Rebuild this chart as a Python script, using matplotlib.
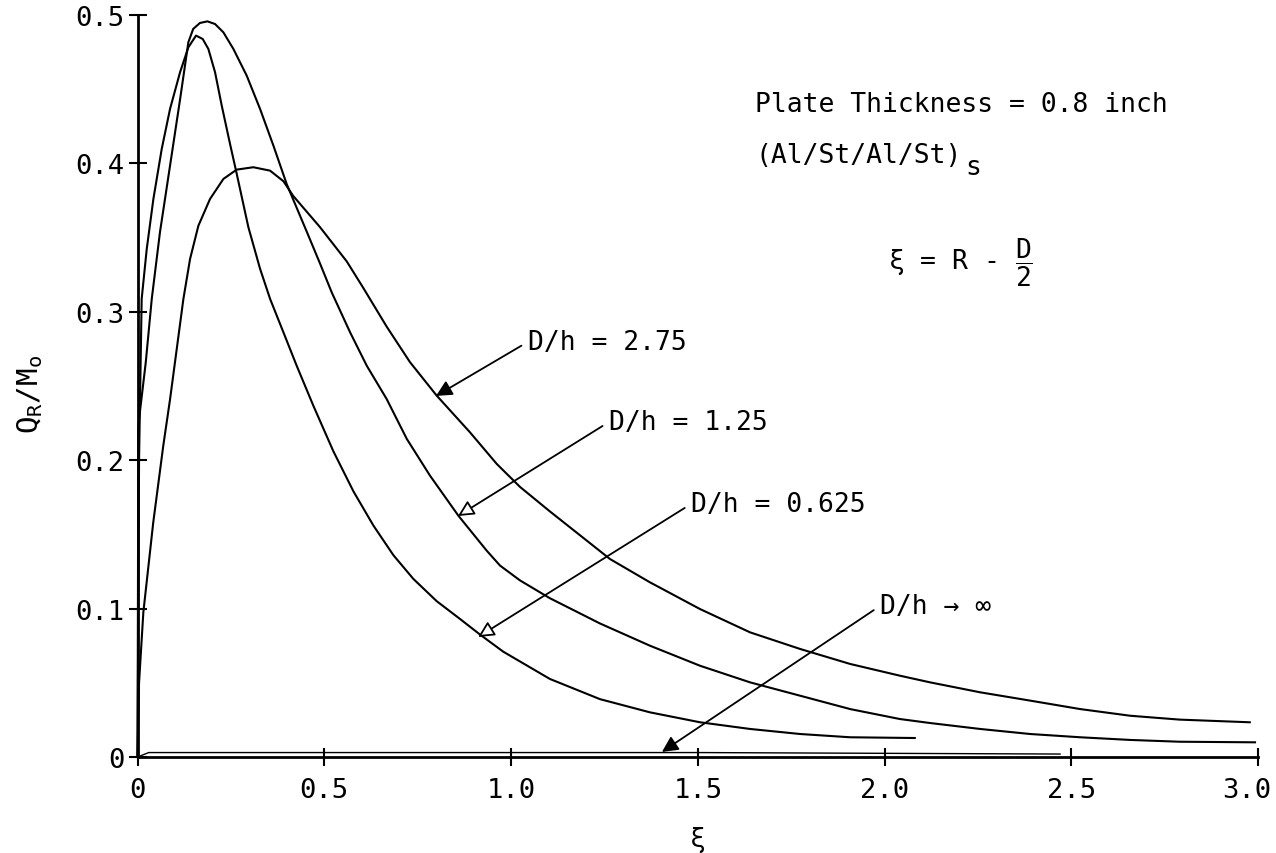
import matplotlib
matplotlib.use("Agg")
import matplotlib.pyplot as plt
from matplotlib.transforms import ScaledTranslation

# values (xi, Q_R/M_o)
xi_0625 = [0, 0.002, 0.004, 0.011, 0.0246, 0.0424, 0.0647, 0.087, 0.1138, 0.136, 0.1566,
           0.1745, 0.1896, 0.2075, 0.2254, 0.2477, 0.2655, 0.2967, 0.328, 0.355, 0.3905,
           0.426, 0.4707, 0.5243, 0.578, 0.6314, 0.685, 0.7385, 0.801, 0.8635, 0.917,
           0.979, 1.104, 1.238, 1.372, 1.506, 1.64, 1.774, 1.908, 2.081]
q_0625 = [0, 0.10, 0.20, 0.3086, 0.3423, 0.376, 0.4097, 0.4367, 0.4614, 0.4782, 0.4861,
          0.4838, 0.4771, 0.4614, 0.4389, 0.413, 0.393, 0.357, 0.329, 0.3086, 0.2862,
          0.2637, 0.2367, 0.206, 0.179, 0.156, 0.136, 0.12, 0.105, 0.093, 0.0825,
          0.071, 0.0526, 0.039, 0.0301, 0.0234, 0.0189, 0.0155, 0.0133, 0.0128]

xi_125 = [0, 0.001, 0.002, 0.022, 0.038, 0.060, 0.087, 0.114, 0.136, 0.149, 0.167, 0.187,
          0.2075, 0.2298, 0.2566, 0.2923, 0.328, 0.3637, 0.3994, 0.453, 0.4886, 0.52,
          0.569, 0.6136, 0.667, 0.721, 0.783, 0.859, 0.935, 0.9705, 1.024, 1.104, 1.238,
          1.372, 1.506, 1.64, 1.774, 1.908, 2.041, 2.122, 2.256, 2.39, 2.524, 2.658,
          2.79, 2.992]
q_125 = [0, 0.10, 0.2233, 0.266, 0.3086, 0.3536, 0.3985, 0.4434, 0.4816, 0.4906, 0.4946,
         0.4957, 0.4939, 0.4883, 0.4771, 0.4591, 0.4367, 0.412, 0.386, 0.354, 0.3325,
         0.313, 0.2862, 0.2637, 0.2412, 0.2143, 0.1896, 0.1626, 0.139, 0.129, 0.119,
         0.107, 0.090, 0.075, 0.0615, 0.0503, 0.0413, 0.0323, 0.0256, 0.0229, 0.0189,
         0.0155, 0.0133, 0.0115, 0.0103, 0.0099]

xi_275 = [0, 0.004, 0.0155, 0.042, 0.069, 0.087, 0.1227, 0.1406, 0.1629, 0.194, 0.2298,
          0.2655, 0.31, 0.3548, 0.3905, 0.417, 0.4886, 0.56, 0.6046, 0.667, 0.7296, 0.801,
          0.89, 0.9617, 1.024, 1.104, 1.265, 1.372, 1.506, 1.64, 1.774, 1.908, 2.041,
          2.122, 2.256, 2.39, 2.524, 2.658, 2.79, 2.978]
q_275 = [0, 0.05, 0.0975, 0.158, 0.21, 0.241, 0.3086, 0.3356, 0.358, 0.376, 0.3895,
         0.3958, 0.3974, 0.3951, 0.388, 0.378, 0.357, 0.334, 0.316, 0.290, 0.266, 0.2435,
         0.2188, 0.1975, 0.182, 0.1655, 0.1334, 0.1177, 0.0997, 0.084, 0.0728, 0.0627,
         0.0548, 0.0503, 0.0436, 0.038, 0.0323, 0.0278, 0.0252, 0.0234]

xi_inf = [0, 0.03, 0.5, 1.5, 2.47]
q_inf = [0, 0.003, 0.003, 0.003, 0.002]

x_ticks = [0, 0.5, 1.0, 1.5, 2.0, 2.5, 3.0]
x_labels = ["0", "0.5", "1.0", "1.5", "2.0", "2.5", "3.0"]
y_ticks = [0, 0.1, 0.2, 0.3, 0.4, 0.5]
y_labels = ["0", "0.1", "0.2", "0.3", "0.4", "0.5"]

plt.rcParams["font.family"] = ["DejaVu Sans Mono", "DejaVu Sans"]
plt.rcParams["mathtext.fontset"] = "custom"
plt.rcParams["mathtext.rm"] = "DejaVu Sans Mono"
plt.rcParams["mathtext.it"] = "DejaVu Sans Mono"
plt.rcParams["mathtext.default"] = "regular"

fig = plt.figure(figsize=(12.76, 8.54), dpi=100)
ax = fig.add_axes([0.1078, 0.1124, 0.8781, 0.8689])

for xs, ys in [(xi_0625, q_0625), (xi_125, q_125), (xi_275, q_275)]:
    ax.plot(xs, ys, color="black", lw=1.5, clip_on=False, solid_joinstyle="round")
ax.plot(xi_inf, q_inf, color="black", lw=1.0, clip_on=False)

ax.set_xlim(0, 3)
ax.set_ylim(0, 0.5)
ax.spines["top"].set_visible(False)
ax.spines["right"].set_visible(False)
ax.spines["left"].set_linewidth(2)
ax.spines["bottom"].set_linewidth(2)
ax.set_xticks(x_ticks)
ax.set_xticklabels(x_labels)
ax.set_yticks(y_ticks)
ax.set_yticklabels(y_labels)
ax.tick_params(direction="inout", length=13, width=1.5, labelsize=19.5)
ax.tick_params(axis="x", pad=8)
ax.tick_params(axis="y", pad=3)

# last x label sits a bit left, as in the original
last = ax.get_xticklabels()[-1]
last.set_transform(last.get_transform() + ScaledTranslation(-0.11, 0, fig.dpi_scale_trans))

ax.set_ylabel("Q$_R$/M$_o$", fontsize=21)
ax.yaxis.set_label_coords(-0.083, 0.49)
ax.set_xlabel("ξ", fontsize=19)
ax.xaxis.set_label_coords(0.5, -0.093)

# annotations
solid = dict(arrowstyle="-|>", color="black", lw=1.3, mutation_scale=24,
             shrinkA=3, shrinkB=0, relpos=(0, 0.5))
hollow = dict(arrowstyle="-|>", ec="black", fc="white", lw=1.3, mutation_scale=24,
              shrinkA=3, shrinkB=0, relpos=(0, 0.5))

ax.annotate("D/h = 2.75", xy=(0.799, 0.2433), xytext=(1.045, 0.2797),
            va="center", ha="left", fontsize=19, arrowprops=solid)
ax.annotate("D/h = 1.25", xy=(0.858, 0.1624), xytext=(1.262, 0.2257),
            va="center", ha="left", fontsize=19, arrowprops=hollow)
ax.annotate("D/h = 0.625", xy=(0.912, 0.0809), xytext=(1.482, 0.1705),
            va="center", ha="left", fontsize=19, arrowprops=hollow)
ax.annotate("D/h → ∞", xy=(1.404, 0.0034), xytext=(1.988, 0.1018),
            va="center", ha="left", fontsize=19, arrowprops=solid)

ax.text(1.654, 0.4353, "Plate Thickness = 0.8 inch", va="baseline", ha="left", fontsize=19)
ax.text(1.654, 0.401, "(Al/St/Al/St)", va="baseline", ha="left", fontsize=19)
ax.text(2.2155, 0.3929, "s", va="baseline", ha="left", fontsize=19)
ax.text(2.009, 0.3336, "ξ = R - $\\dfrac{D}{2}$", va="center", ha="left", fontsize=19)

fig.savefig("out.png", dpi=100)
